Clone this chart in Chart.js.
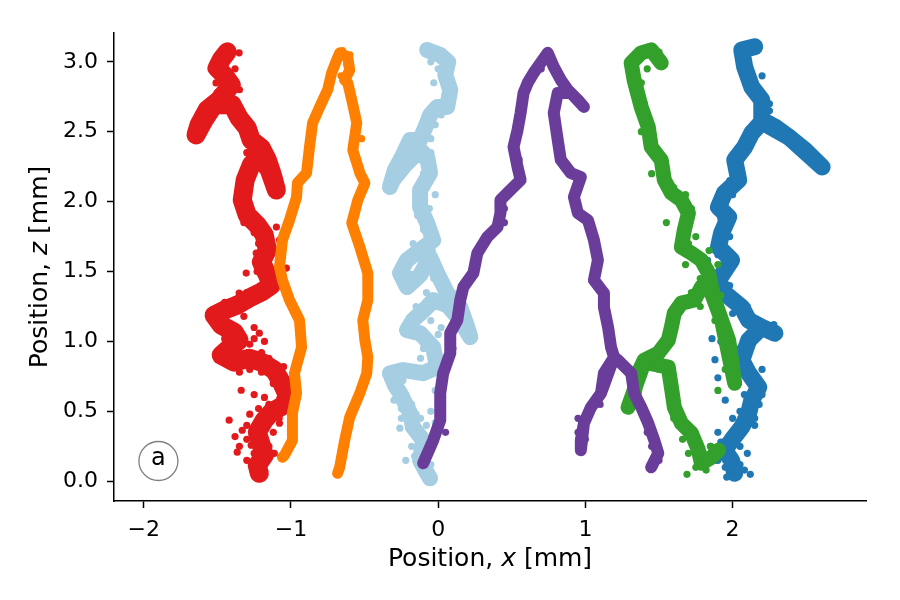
<!DOCTYPE html>
<html>
<head>
<meta charset="utf-8">
<script src="https://cdn.jsdelivr.net/npm/chart.js@4/dist/chart.umd.min.js"></script>
<style>
html,body{margin:0;padding:0;background:#fff;}
#wrap{width:900px;height:600px;position:relative;}
</style>
</head>
<body>
<div id="wrap"><canvas id="c" width="900" height="600"></canvas></div>
<script>
// ---- Axis ticks ----
const xTicks = [-2, -1, 0, 1, 2];
const zTicks = [0.0, 0.5, 1.0, 1.5, 2.0, 2.5, 3.0];
const xLimits = [-2.202, 2.906];
const zLimits = [-0.141, 3.206];

// ---- Trajectory paths (x, z in mm) ----
const orangeX = [-1.058,-1.044,-0.990,-0.990,-0.962,-0.976,-0.928,-0.942,-1.010,-1.058,-1.078,-1.058,-1.010,-0.962,-0.956,-0.894,-0.874,-0.853,-0.805,-0.751,-0.724,-0.689,-0.669,-0.614,-0.601,-0.635,-0.614,-0.587,-0.553,-0.580,-0.532,-0.498,-0.546,-0.587,-0.532,-0.478,-0.478,-0.512,-0.498,-0.478,-0.485,-0.532,-0.601,-0.635,-0.669,-0.683];
const orangeZ = [0.172,0.186,0.293,0.487,0.630,0.773,0.959,1.152,1.296,1.439,1.532,1.725,1.868,2.033,2.133,2.205,2.391,2.563,2.677,2.799,2.920,3.014,3.064,3.035,2.940,2.870,2.849,2.727,2.563,2.369,2.205,2.133,2.011,1.847,1.675,1.489,1.296,1.152,1.009,0.888,0.773,0.630,0.458,0.293,0.100,0.057];
const orangeDotX = [-0.700,-0.620,-0.660,-0.600,-0.720,-0.650,-1.030,-0.960,-0.520,-0.470];
const orangeDotZ = [2.980,2.980,2.900,3.050,2.950,3.080,0.200,0.700,2.450,1.400];

const redX = [-1.433,-1.474,-1.502,-1.454,-1.406,-1.488,-1.570,-1.625,-1.645,-1.590,-1.522,-1.399,-1.352,-1.297,-1.270,-1.201,-1.160,-1.126,-1.099,-1.147,-1.215,-1.270,-1.311,-1.331,-1.297,-1.229,-1.181,-1.160,-1.201,-1.160,-1.133,-1.201,-1.283,-1.365,-1.454,-1.522,-1.474,-1.386,-1.352,-1.420,-1.474,-1.386,-1.283,-1.201,-1.113,-1.065,-1.024,-1.051,-1.133,-1.181,-1.229,-1.201,-1.181,-1.229,-1.215];
const redZ = [3.071,3.014,2.956,2.906,2.835,2.727,2.656,2.548,2.477,2.584,2.692,2.692,2.598,2.527,2.441,2.384,2.298,2.190,2.083,2.226,2.334,2.262,2.155,2.011,1.904,1.833,1.761,1.654,1.568,1.475,1.403,1.353,1.310,1.260,1.224,1.188,1.117,1.067,1.009,0.952,0.902,0.852,0.880,0.852,0.795,0.709,0.616,0.544,0.494,0.437,0.351,0.258,0.186,0.115,0.057];
const redDotX = [-1.420,-1.338,-1.331,-1.365,-1.270,-1.195,-1.113,-1.236,-1.147,-1.078,-1.031,-1.099,-1.488,-1.509,-1.215,-1.352,-1.304,-1.236,-1.078,-1.058,-1.099,-1.352,-1.304,-1.468,-1.352,-1.509,-1.399,-1.215,-1.099,-1.304,
  -1.480,-1.420,-1.380,-1.450,-1.350,-1.500,-1.550,-1.600,-1.480,-1.330,-1.280,-1.250,-1.300,-1.350,-1.280,-1.320,-1.250,-1.220,-1.120,-1.150,-1.230,-1.120,-1.200,-1.031,
  -1.450,-1.380,-1.300,-1.500,-1.420,-1.320,-1.250,-1.500,-1.450,-1.380,-1.320,-1.280,-1.200,-1.150,-1.100,-1.050,-1.120,-1.200,-1.280,-1.350,-1.250,-1.180,-1.450,
  -1.250,-1.180,-1.280,-1.220,-1.150,-1.050,-1.080,-1.300,-1.380,-1.300,-1.250,-1.150,-1.180,-1.300,-1.350,-1.120,-1.220];
const redDotZ = [0.437,0.651,0.365,0.208,0.258,0.150,0.200,0.400,0.487,0.415,0.580,0.773,0.916,1.174,1.059,1.346,1.489,1.632,1.725,1.510,1.818,2.083,1.961,2.727,3.064,2.849,2.799,2.391,2.176,2.155,
  3.000,3.050,2.950,2.880,2.800,2.780,2.620,2.550,2.680,2.550,2.450,2.400,2.350,2.050,1.950,1.850,1.780,1.700,1.650,1.550,1.500,1.420,1.380,1.525,
  1.280,1.300,1.350,1.150,1.120,1.180,1.100,0.920,0.850,0.950,0.880,0.980,0.920,0.880,0.780,0.820,0.700,0.780,0.800,0.780,1.020,1.000,1.020,
  0.620,0.600,0.480,0.520,0.550,0.550,0.450,0.400,0.320,0.300,0.200,0.250,0.120,0.150,0.250,0.350,0.060];

const lightBlueX = [-0.075,0.014,0.068,0.048,0.082,0.061,-0.007,-0.055,-0.075,-0.123,-0.191,-0.239,-0.294,-0.328,-0.307,-0.225,-0.123,-0.075,-0.055,-0.123,-0.123,-0.075,-0.034,-0.123,-0.212,-0.259,-0.212,-0.123,-0.055,-0.007,0.061,0.150,0.198,0.218,0.150,0.061,-0.034,-0.075,-0.171,-0.212,-0.123,-0.034,-0.007,-0.102,-0.239,-0.328,-0.294,-0.259,-0.191,-0.171,-0.102,-0.123,-0.075,-0.055];
const lightBlueZ = [3.085,3.049,2.999,2.906,2.799,2.677,2.677,2.620,2.563,2.441,2.441,2.334,2.226,2.104,2.155,2.262,2.369,2.319,2.205,2.083,1.961,1.847,1.725,1.653,1.582,1.489,1.389,1.475,1.603,1.489,1.346,1.245,1.102,1.031,1.152,1.260,1.296,1.245,1.152,1.081,1.059,0.959,0.816,0.773,0.795,0.773,0.687,0.630,0.487,0.387,0.293,0.150,0.057,0.021];
const lightBlueDotX = [-0.220,-0.160,-0.050,-0.300,-0.250,-0.200,-0.120,-0.050,-0.020,0.030,-0.100,-0.150,-0.080,-0.170,-0.020,-0.100,-0.050,0.050,0.000,-0.050,0.080,0.020,-0.050,-0.240,-0.140,
  -0.280,-0.220,-0.180,-0.250,-0.150,-0.080,-0.140,-0.180,-0.100,-0.060,-0.200,-0.260,-0.020,0.000,
  -0.050,-0.120,-0.160,-0.100,0.000,-0.020,0.080,0.120,-0.180,-0.220,-0.080,-0.040,-0.100,-0.060,-0.140,-0.030,
  -0.080,-0.120,-0.050,-0.020,0.020,0.050,0.030,-0.030,0.070,-0.250,-0.300];
const lightBlueDotZ = [0.150,0.180,0.120,0.580,0.450,0.380,0.450,0.500,0.650,0.600,0.950,1.250,1.350,1.700,2.050,2.200,2.450,2.850,2.950,3.000,2.720,1.100,1.150,0.720,0.330,
  0.700,0.620,0.550,0.520,0.480,0.400,0.300,0.250,0.220,0.300,0.420,0.380,0.420,0.550,
  0.900,0.880,1.080,1.180,1.050,1.250,1.300,1.200,1.480,1.550,1.550,1.650,1.800,1.950,1.900,1.450,
  2.100,2.300,2.350,2.550,2.620,2.780,3.050,2.850,2.900,2.280,2.180];

const purpleX = [-0.102,-0.034,0.014,0.014,0.034,0.082,0.082,0.130,0.150,0.171,0.239,0.266,0.334,0.403,0.423,0.423,0.491,0.560,0.539,0.512,0.539,0.560,0.580,0.608,0.648,0.696,0.744,0.785,0.833,0.881,0.949,0.990,0.901,0.812,0.785,0.812,0.833,0.901,0.969,0.922,0.949,1.017,1.058,1.085,1.058,1.126,1.126,1.154,1.174,1.195,1.126,1.106,1.038,0.990,0.969,0.969,0.990,1.038,1.106,1.195,1.222,1.311,1.331,1.379,1.427,1.468,1.495,1.447];
const purpleZ = [0.129,0.293,0.437,0.630,0.773,0.916,1.059,1.152,1.296,1.389,1.489,1.632,1.747,1.818,1.918,2.011,2.083,2.155,2.248,2.391,2.512,2.634,2.777,2.849,2.920,2.992,3.064,2.963,2.870,2.799,2.727,2.677,2.777,2.777,2.634,2.441,2.298,2.205,2.176,2.033,1.918,1.868,1.725,1.582,1.439,1.346,1.245,1.102,0.959,0.888,0.773,0.630,0.530,0.415,0.293,0.222,0.415,0.530,0.630,0.888,0.866,0.773,0.630,0.530,0.415,0.293,0.200,0.100];
const purpleDotX = [0.050,-0.080,0.100,0.450,0.700,0.750,0.950,1.000,1.450,1.500,0.200,0.550,0.450,0.380,0.300,0.550,0.950,1.100,1.420,1.470];
const purpleDotZ = [0.350,0.180,0.950,1.950,2.950,3.020,0.450,0.300,0.250,0.150,1.450,2.300,1.850,1.800,1.700,2.150,0.350,0.550,0.350,0.120];

const greenX = [1.515,1.447,1.379,1.311,1.331,1.379,1.427,1.447,1.515,1.536,1.584,1.652,1.700,1.672,1.652,1.720,1.788,1.836,1.877,1.925,1.973,1.993,2.014,1.925,1.836,1.788,1.741,1.652,1.604,1.584,1.563,1.495,1.399,1.358,1.331,1.290,1.399,1.563,1.584,1.604,1.652,1.720,1.768,1.788,1.857,1.904];
const greenZ = [2.992,3.085,3.064,2.992,2.870,2.677,2.534,2.391,2.298,2.155,2.062,2.011,1.918,1.797,1.675,1.632,1.582,1.489,1.296,1.152,1.009,0.866,0.701,1.152,1.403,1.389,1.296,1.274,1.203,1.102,1.009,0.916,0.866,0.773,0.630,0.530,0.852,0.816,0.673,0.530,0.415,0.344,0.222,0.129,0.172,0.222];
const greenDotX = [1.750,1.820,1.700,1.850,1.660,1.600,1.500,1.450,1.300,1.720,1.780,1.920,1.550,1.450,1.380,1.350,1.420,1.500,1.900,1.680,1.840,1.690,
  1.330,1.380,1.400,1.430,1.450,1.500,1.550,1.600,1.680,1.720,1.680,1.750,1.700,1.800,1.850,1.780,1.700,1.620,1.600,1.550,1.450,1.380,1.320,1.560,1.600,1.620,1.680,1.750,1.780,1.820,1.900,1.950,1.980,1.880];
const greenDotZ = [0.100,0.080,0.200,0.250,0.300,0.450,0.800,0.850,0.600,1.350,1.250,1.330,1.850,2.200,2.500,2.750,2.950,3.070,1.550,1.550,1.650,0.050,
  2.950,2.850,2.700,2.600,2.450,2.350,2.220,2.100,2.050,1.950,1.850,1.750,1.700,1.600,1.520,1.450,1.300,1.250,1.120,1.020,0.880,0.800,0.680,0.750,0.620,0.500,0.380,0.300,0.180,0.150,0.650,0.800,0.950,1.150];

const blueX = [2.150,2.062,2.082,2.130,2.198,2.198,2.287,2.382,2.491,2.608,2.382,2.198,2.130,2.082,2.014,2.041,1.945,1.904,1.973,1.925,1.904,1.993,1.904,1.945,2.062,2.109,2.198,2.287,2.198,2.109,2.062,2.109,2.177,2.130,2.109,2.062,1.993,1.945,1.993,2.014];
const blueZ = [3.107,3.085,2.963,2.820,2.727,2.584,2.534,2.462,2.369,2.248,2.462,2.570,2.491,2.391,2.298,2.155,2.062,1.961,1.890,1.775,1.675,1.582,1.439,1.346,1.245,1.152,1.102,1.059,1.102,1.009,0.866,0.773,0.673,0.580,0.487,0.387,0.293,0.222,0.150,0.057];
const blueDotX = [1.860,1.880,1.900,1.950,2.000,2.150,2.180,1.900,1.850,2.050,1.950,2.100,1.820,1.830,2.200,2.200,2.250,2.000,1.950,2.280,2.000,1.920,2.200,2.120,1.880,
  2.100,2.130,2.180,2.250,2.220,2.100,2.050,1.980,1.950,2.000,1.920,1.980,1.900,1.950,1.980,2.020,2.100,2.150,2.250,2.150,2.050,2.000,2.150,2.200,2.080,2.050,2.150,2.000,1.920,2.050,1.980,1.900,2.080,1.960];
const blueDotZ = [1.020,0.870,0.740,0.580,0.450,0.400,0.550,0.350,0.250,0.120,0.100,0.200,1.450,1.580,2.750,2.900,2.650,2.200,1.800,1.120,1.200,1.000,0.800,0.050,0.150,
  3.000,2.900,2.800,2.700,2.600,2.400,2.300,2.150,2.000,2.050,1.880,1.750,1.620,1.520,1.400,1.300,1.250,1.150,1.050,1.020,0.950,0.800,0.700,0.620,0.620,0.500,0.450,0.350,0.280,0.250,0.200,0.150,0.080,0.030];

const COLORS = {
  red: '#e31a1c', orange: '#ff7f00', lightBlue: '#a6cee3',
  purple: '#6a3d9a', green: '#33a02c', blue: '#1f78b4'
};

function pts(xs, zs) { return xs.map((x, i) => ({ x: x, y: zs[i] })); }
function path(xs, zs, color, w) {
  return { data: pts(xs, zs), showLine: true, borderColor: color, backgroundColor: color,
    borderWidth: w, pointRadius: 0, borderCapStyle: 'round', borderJoinStyle: 'round', tension: 0 };
}
function dots(xs, zs, color) {
  return { data: pts(xs, zs), showLine: false, borderColor: color, backgroundColor: color,
    borderWidth: 0, pointRadius: 3.6 };
}

// index 0 is drawn on top
const datasets = [
  dots(purpleDotX, purpleDotZ, COLORS.purple),
  path(purpleX, purpleZ, COLORS.purple, 12),
  dots(orangeDotX, orangeDotZ, COLORS.orange),
  path(orangeX, orangeZ, COLORS.orange, 11),
  dots(redDotX, redDotZ, COLORS.red),
  path(redX, redZ, COLORS.red, 19),
  dots(greenDotX, greenDotZ, COLORS.green),
  path(greenX, greenZ, COLORS.green, 15),
  dots(blueDotX, blueDotZ, COLORS.blue),
  path(blueX, blueZ, COLORS.blue, 17),
  dots(lightBlueDotX, lightBlueDotZ, COLORS.lightBlue),
  path(lightBlueX, lightBlueZ, COLORS.lightBlue, 16)
];

const FONT = "'DejaVu Sans', sans-serif";
const TITLE_PX = 25;

const decorPlugin = {
  id: 'decor',
  afterDraw(chart) {
    const ctx = chart.ctx, ca = chart.chartArea;
    ctx.save();
    // panel label circle
    ctx.beginPath();
    ctx.arc(ca.left + 44.4, ca.bottom - 40, 19.5, 0, Math.PI * 2);
    ctx.strokeStyle = '#808080';
    ctx.lineWidth = 1.3;
    ctx.stroke();
    ctx.fillStyle = '#000';
    ctx.font = '24px ' + FONT;
    ctx.textAlign = 'center';
    ctx.textBaseline = 'middle';
    ctx.fillText('a', ca.left + 44.4, ca.bottom - 42);

    // axis titles with italic variable
    function drawTitle(parts, cx, cy, rot) {
      ctx.save();
      ctx.translate(cx, cy);
      ctx.rotate(rot);
      ctx.textAlign = 'left';
      ctx.textBaseline = 'alphabetic';
      let total = 0;
      const widths = parts.map(p => { ctx.font = (p[1] ? 'italic ' : '') + TITLE_PX + 'px ' + FONT; const w = ctx.measureText(p[0]).width; total += w; return w; });
      let x = -total / 2;
      parts.forEach((p, i) => { ctx.font = (p[1] ? 'italic ' : '') + TITLE_PX + 'px ' + FONT; ctx.fillText(p[0], x, 0); x += widths[i]; });
      ctx.restore();
    }
    drawTitle([['Position, ', false], ['x', true], [' [mm]', false]], (ca.left + ca.right) / 2, 566, 0);
    drawTitle([['Position, ', false], ['z', true], [' [mm]', false]], 47, (ca.top + ca.bottom) / 2, -Math.PI / 2);
    ctx.restore();
  }
};

new Chart(document.getElementById('c'), {
  type: 'scatter',
  data: { datasets: datasets },
  options: {
    responsive: false,
    animation: false,
    events: [],
    layout: { padding: { top: 33, right: 34, left: 0, bottom: 0 } },
    plugins: { legend: { display: false }, tooltip: { enabled: false } },
    scales: {
      x: {
        type: 'linear', min: xLimits[0], max: xLimits[1],
        afterBuildTicks: s => { s.ticks = xTicks.map(v => ({ value: v })); },
        afterFit: s => { s.height = 99; },
        grid: { display: true, drawOnChartArea: false, drawTicks: true, tickLength: 7, tickWidth: 1.5, tickColor: '#000' },
        border: { display: true, color: '#000', width: 1.5 },
        ticks: { color: '#000', font: { family: FONT, size: 22 }, padding: 9, maxRotation: 0,
          callback: v => (v < 0 ? '\u2212' + Math.abs(v) : String(v)) }
      },
      y: {
        type: 'linear', min: zLimits[0], max: zLimits[1],
        afterBuildTicks: s => { s.ticks = zTicks.map(v => ({ value: v })); },
        afterFit: s => { s.width = 114; },
        grid: { display: true, drawOnChartArea: false, drawTicks: true, tickLength: 7, tickWidth: 1.5, tickColor: '#000' },
        border: { display: true, color: '#000', width: 1.5 },
        ticks: { color: '#000', font: { family: FONT, size: 22 }, padding: 9,
          callback: v => v.toFixed(1) }
      }
    }
  },
  plugins: [decorPlugin]
});
</script>
</body>
</html>
